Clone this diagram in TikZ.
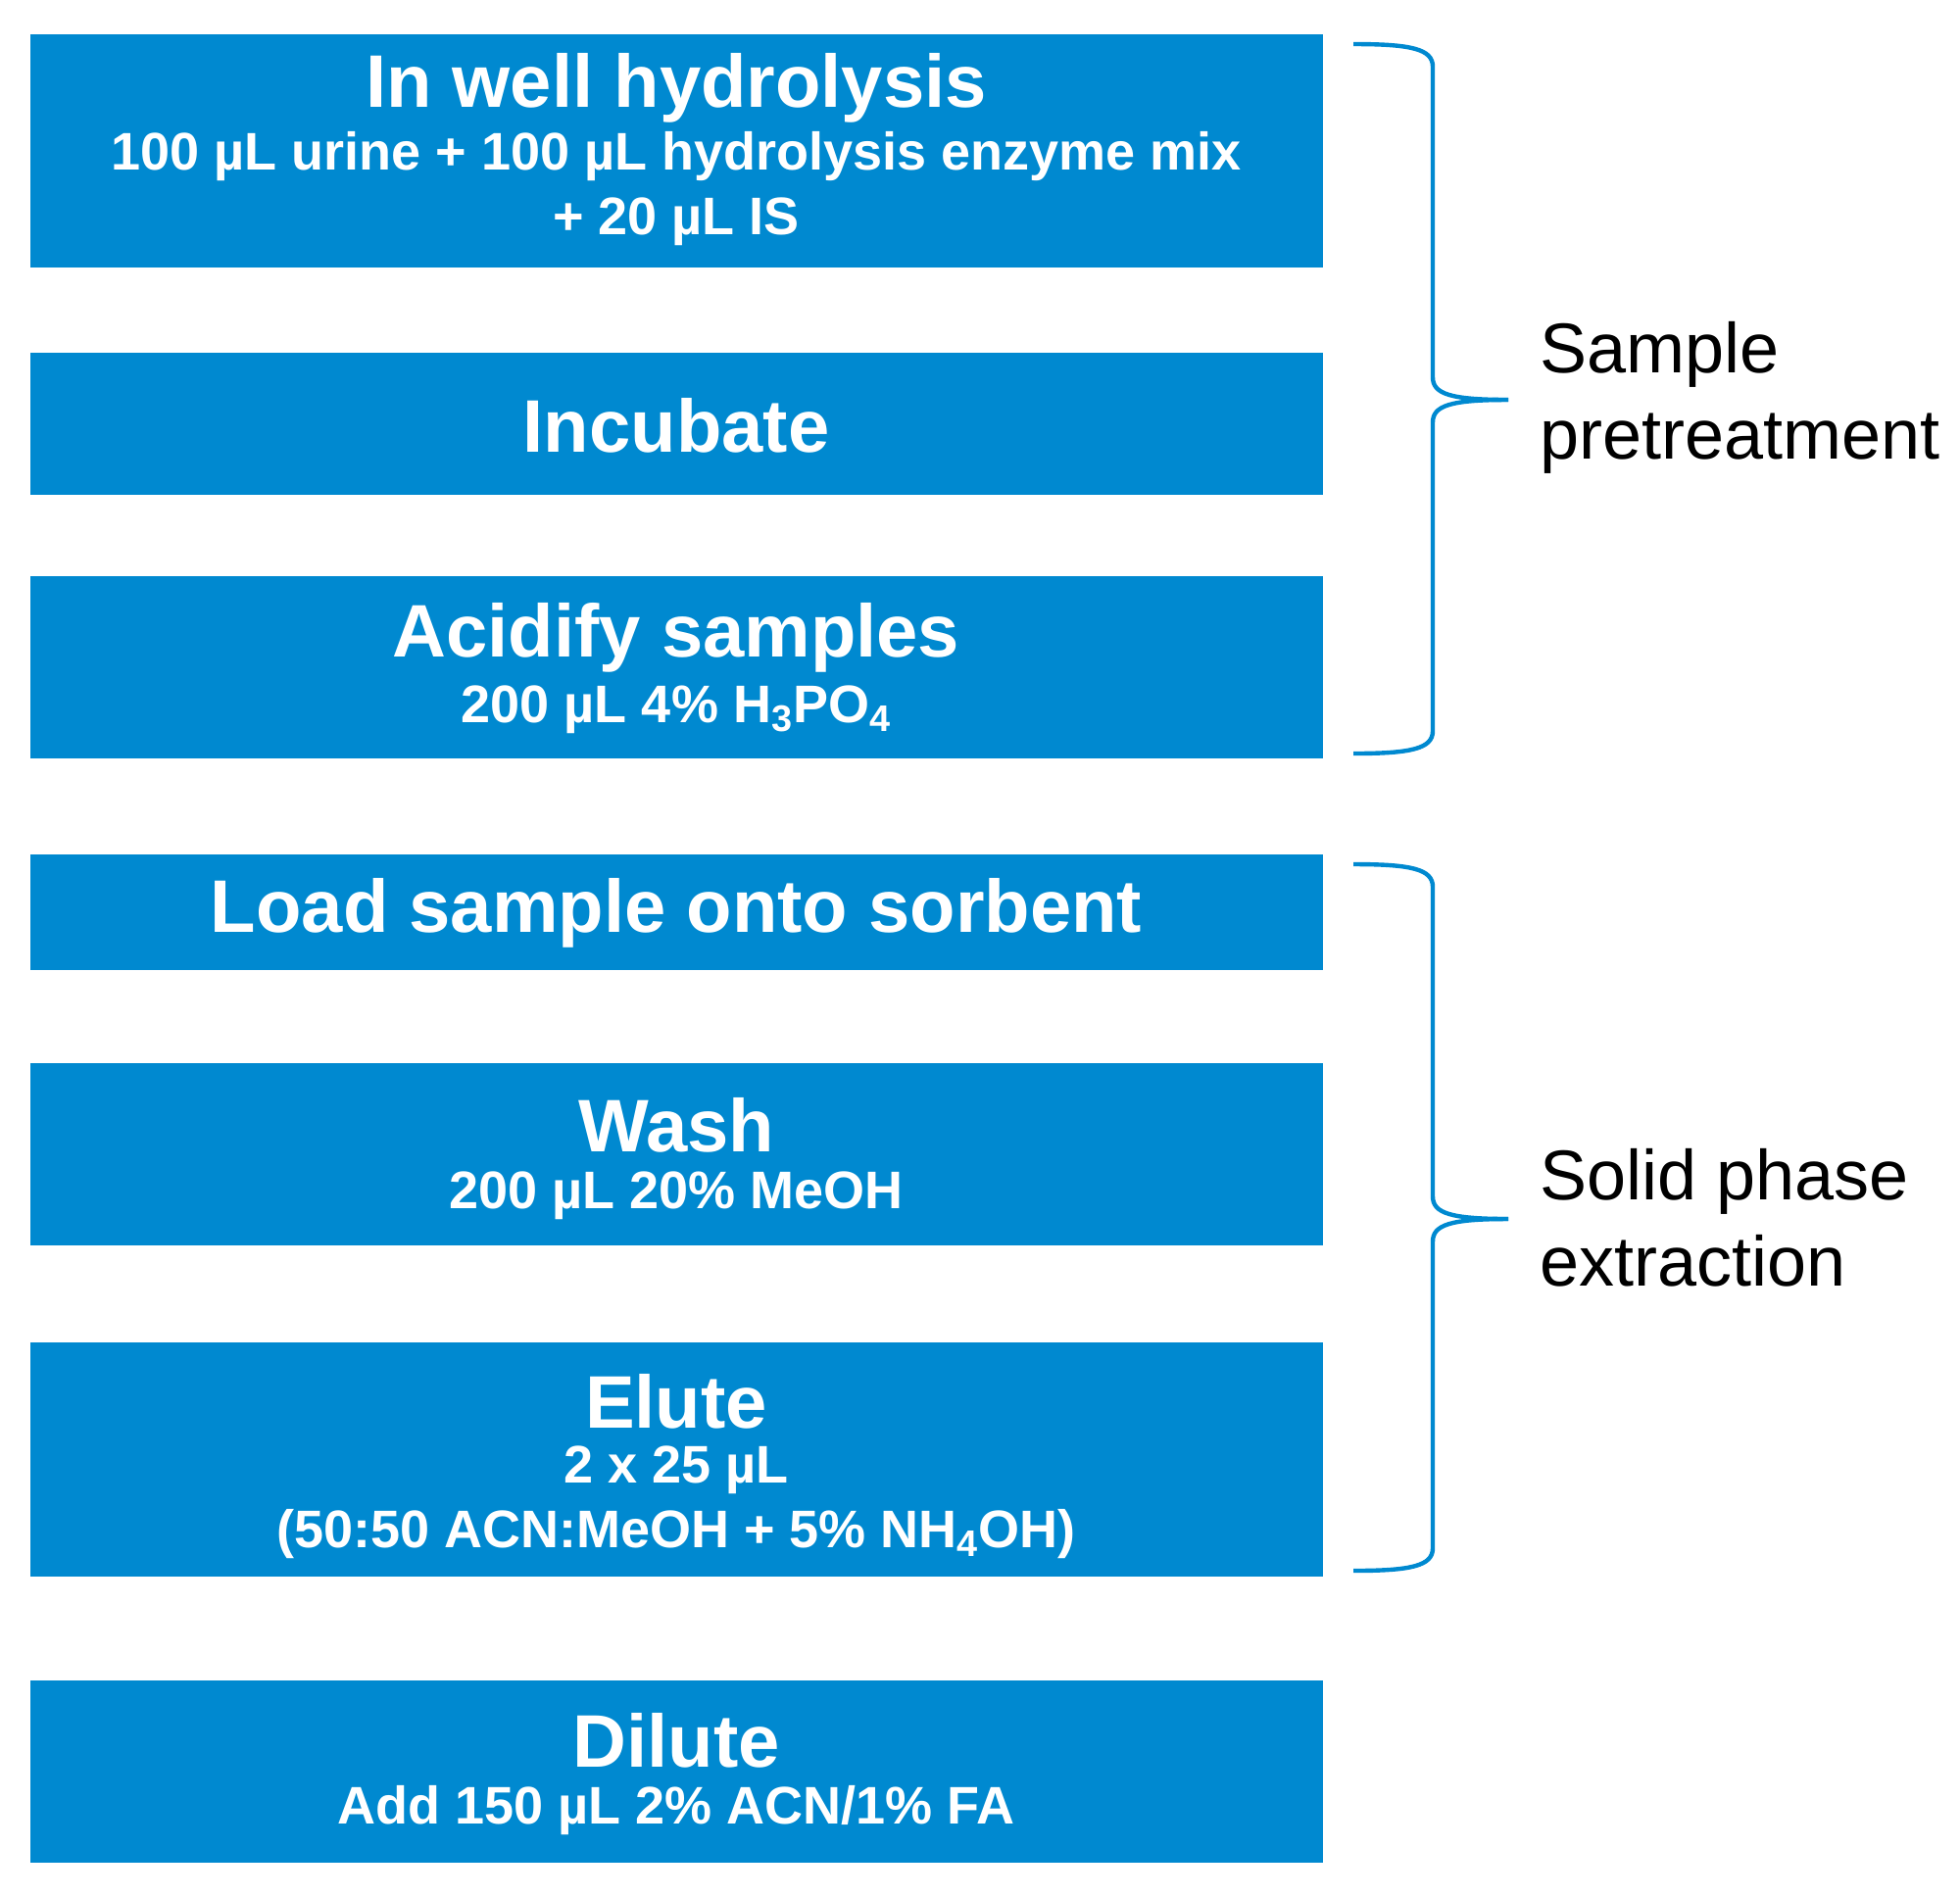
\documentclass[tikz,border=0pt]{standalone}
\usepackage{fontspec}
\setmainfont{Liberation Sans}
\definecolor{wblue}{HTML}{0089D0}
\begin{document}
\begin{tikzpicture}[x=0.5pt,y=-0.5pt,
 box/.style={fill=wblue,draw=none},
 t/.style={text=white,font=\bfseries\fontsize{38}{44}\selectfont,align=center,inner sep=0},
 s/.style={text=white,font=\bfseries\fontsize{27}{33}\selectfont,align=center,inner sep=0},
 lab/.style={font=\fontsize{36}{44}\selectfont,align=left,anchor=west,inner sep=0},
 br/.style={draw=wblue,line width=2.2pt}]
\useasboundingbox (0,0) rectangle (2000,1935);
\fill[box] (31,35) rectangle (1350,273);
\node[t] (a1) at (690,90) {In well hydrolysis};
\node[s] (a2) at (690,193) {100 µL urine + 100 µL hydrolysis enzyme mix\\+ 20 µL IS};
\fill[box] (31,360) rectangle (1350,505);
\node[t] (b1) at (690,434) {Incubate};
\fill[box] (31,588) rectangle (1350,774);
\node[t] (c1) at (690,651) {Acidify samples};
\node[s] (c2) at (690,724) {200 µL 4\% H\textsubscript{3}PO\textsubscript{4}};
\fill[box] (31,872) rectangle (1350,990);
\node[t] (d1) at (690,932) {Load sample onto sorbent};
\fill[box] (31,1085) rectangle (1350,1271);
\node[t] (e1) at (690,1148) {Wash};
\node[s] (e2) at (690,1220) {200 µL 20\% MeOH};
\fill[box] (31,1370) rectangle (1350,1609);
\node[t] (f1) at (690,1430) {Elute};
\node[s] (f2) at (690,1533) {2 x 25 µL\\(50:50 ACN:MeOH + 5\% NH\textsubscript{4}OH)};
\fill[box] (31,1715) rectangle (1350,1901);
\node[t] (g1) at (690,1776) {Dilute};
\node[s] (g2) at (690,1848) {Add 150 µL 2\% ACN/1\% FA};
\draw[br] (1381,45) .. controls (1440,45) and (1462,50) .. (1462,68) -- (1462,385) .. controls (1462,402) and (1480,408) .. (1539,408);
\draw[br] (1381,769) .. controls (1440,769) and (1462,764) .. (1462,746) -- (1462,431) .. controls (1462,414) and (1480,408) .. (1539,408);
\draw[br] (1381,882) .. controls (1440,882) and (1462,887) .. (1462,905) -- (1462,1221) .. controls (1462,1238) and (1480,1244) .. (1539,1244);
\draw[br] (1381,1603) .. controls (1440,1603) and (1462,1598) .. (1462,1580) -- (1462,1267) .. controls (1462,1250) and (1480,1244) .. (1539,1244);
\node[lab] (p) at (1571,406) {Sample\\pretreatment};
\node[lab] (q) at (1571,1243) {Solid phase\\extraction};
\end{tikzpicture}
\end{document}
